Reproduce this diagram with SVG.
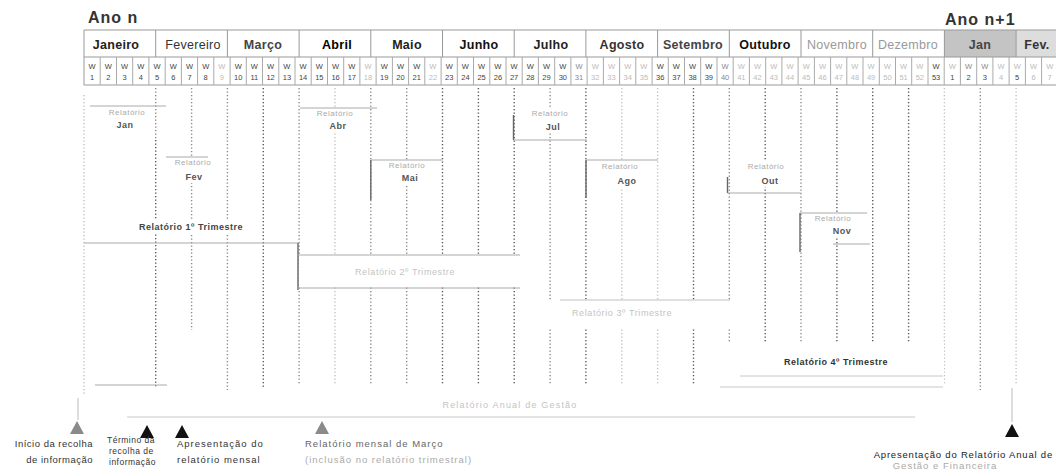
<svg xmlns="http://www.w3.org/2000/svg" width="1056" height="476" viewBox="0 0 1056 476">
<style>
text{font-family:"Liberation Sans",Arial,sans-serif}
.yr{font-size:16px;font-weight:bold;fill:#333;letter-spacing:1px}
.mo{font-size:12.5px;font-weight:bold;text-anchor:middle;fill:#222;letter-spacing:0.3px}
.mol{font-size:12.5px;text-anchor:middle;fill:#999;letter-spacing:0.3px}
.wk{font-size:7.5px;text-anchor:middle}
.d{fill:#444}.m{fill:#888}.l{fill:#bbb}
.rl{font-size:8px;fill:#aaa;text-anchor:middle;letter-spacing:0.5px}
.ab{font-size:9px;font-weight:bold;fill:#555;text-anchor:middle;letter-spacing:0.5px}
.q{font-size:9px;font-weight:bold;text-anchor:middle;fill:#444;letter-spacing:0.5px}
.qf{font-size:9px;text-anchor:middle;fill:#c4c4c4;letter-spacing:0.6px}
.grid{stroke:#999;stroke-width:1;fill:none}
.ln{stroke:#aaa;stroke-width:1;fill:none}
.lnd{stroke:#666;stroke-width:1.4;fill:none}
.dot{stroke-dasharray:1.2 2.3;stroke-width:1.4;fill:none}
.dk{stroke:#555}.md{stroke:#888}.lt{stroke:#c0c0c0}
.nt{font-size:9.5px;fill:#333;letter-spacing:1px}
.ntf{font-size:9.5px;fill:#aaa;letter-spacing:1px}
.wh{fill:#fff}
</style>

<g id="header">
<text class="yr" x="88" y="23">Ano n</text>
<text class="yr" x="945" y="25">Ano n+1</text>
<rect x="944.4" y="30" width="71.7" height="27" fill="#c4c4c4"/>
<rect x="1016.1" y="30" width="40" height="27" fill="#ddd"/>
<path class="grid" d="M84 30H1056M84 57H1056M84 85H1056M84 30V85M155.7 30V57M227.4 30V57M299.1 30V57M370.8 30V57M442.5 30V57M514.2 30V57M585.9 30V57M657.6 30V57M729.3 30V57M801 30V57M872.7 30V57M944.4 30V57M1016.1 30V57"/>
<path class="grid" style="stroke:#aaa" d="M100.2 57V85M116.5 57V85M132.7 57V85M148.9 57V85M165.2 57V85M181.4 57V85M197.6 57V85M213.8 57V85M230.1 57V85M246.3 57V85M262.5 57V85M278.8 57V85M295 57V85M311.2 57V85M327.5 57V85M343.7 57V85M359.9 57V85M376.1 57V85M392.4 57V85M408.6 57V85M424.8 57V85M441.1 57V85M457.3 57V85M473.5 57V85M489.8 57V85M506 57V85M522.2 57V85M538.4 57V85M554.7 57V85M570.9 57V85M587.1 57V85M603.4 57V85M619.6 57V85M635.8 57V85M652.1 57V85M668.3 57V85M684.5 57V85M700.7 57V85M717 57V85M733.2 57V85M749.4 57V85M765.7 57V85M781.9 57V85M798.1 57V85M814.4 57V85M830.6 57V85M846.8 57V85M863 57V85M879.3 57V85M895.5 57V85M911.7 57V85M928 57V85M944.2 57V85M960.4 57V85M976.7 57V85M992.9 57V85M1009.1 57V85M1025.4 57V85M1041.6 57V85"/>
<text class="mo" x="116" y="49">Janeiro</text>
<text class="mo" x="193" y="49" style="font-weight:normal;fill:#333">Fevereiro</text>
<text class="mo" x="263" y="49" style="fill:#444">Março</text>
<text class="mo" x="337" y="49" style="fill:#000">Abril</text>
<text class="mo" x="407" y="49">Maio</text>
<text class="mo" x="479" y="49" style="fill:#111">Junho</text>
<text class="mo" x="551" y="49">Julho</text>
<text class="mo" x="622" y="49" style="fill:#333">Agosto</text>
<text class="mo" x="693" y="49" style="fill:#444">Setembro</text>
<text class="mo" x="765" y="49" style="fill:#111">Outubro</text>
<text class="mol" x="837" y="49">Novembro</text>
<text class="mol" x="908" y="49">Dezembro</text>
<text class="mo" x="980" y="49" style="fill:#444">Jan</text>
<text class="mo" x="1037" y="49" style="fill:#333">Fev.</text>
</g>

<g id="weeks" class="wk">
<text class="d" x="92.1" y="69">W</text><text class="d" x="92.1" y="80">1</text>
<text class="d" x="108.3" y="69">W</text><text class="d" x="108.3" y="80">2</text>
<text class="d" x="124.6" y="69">W</text><text class="d" x="124.6" y="80">3</text>
<text class="d" x="140.8" y="69">W</text><text class="d" x="140.8" y="80">4</text>
<text class="d" x="157" y="69">W</text><text class="d" x="157" y="80">5</text>
<text class="d" x="173.3" y="69">W</text><text class="d" x="173.3" y="80">6</text>
<text class="d" x="189.5" y="69">W</text><text class="d" x="189.5" y="80">7</text>
<text class="d" x="205.7" y="69">W</text><text class="d" x="205.7" y="80">8</text>
<text class="l" x="221.9" y="69">W</text><text class="l" x="221.9" y="80">9</text>
<text class="d" x="238.2" y="69">W</text><text class="d" x="238.2" y="80">10</text>
<text class="d" x="254.4" y="69">W</text><text class="d" x="254.4" y="80">11</text>
<text class="d" x="270.6" y="69">W</text><text class="d" x="270.6" y="80">12</text>
<text class="d" x="286.9" y="69">W</text><text class="d" x="286.9" y="80">13</text>
<text class="d" x="303.1" y="69">W</text><text class="d" x="303.1" y="80">14</text>
<text class="d" x="319.3" y="69">W</text><text class="d" x="319.3" y="80">15</text>
<text class="d" x="335.6" y="69">W</text><text class="d" x="335.6" y="80">16</text>
<text class="d" x="351.8" y="69">W</text><text class="d" x="351.8" y="80">17</text>
<text class="l" x="368" y="69">W</text><text class="l" x="368" y="80">18</text>
<text class="d" x="384.2" y="69">W</text><text class="d" x="384.2" y="80">19</text>
<text class="d" x="400.5" y="69">W</text><text class="d" x="400.5" y="80">20</text>
<text class="d" x="416.7" y="69">W</text><text class="d" x="416.7" y="80">21</text>
<text class="l" x="432.9" y="69">W</text><text class="l" x="432.9" y="80">22</text>
<text class="d" x="449.2" y="69">W</text><text class="d" x="449.2" y="80">23</text>
<text class="d" x="465.4" y="69">W</text><text class="d" x="465.4" y="80">24</text>
<text class="d" x="481.6" y="69">W</text><text class="d" x="481.6" y="80">25</text>
<text class="d" x="497.9" y="69">W</text><text class="d" x="497.9" y="80">26</text>
<text class="d" x="514.1" y="69">W</text><text class="d" x="514.1" y="80">27</text>
<text class="d" x="530.3" y="69">W</text><text class="d" x="530.3" y="80">28</text>
<text class="d" x="546.5" y="69">W</text><text class="d" x="546.5" y="80">29</text>
<text class="d" x="562.8" y="69">W</text><text class="d" x="562.8" y="80">30</text>
<text class="m" x="579" y="69">W</text><text class="m" x="579" y="80">31</text>
<text class="l" x="595.2" y="69">W</text><text class="l" x="595.2" y="80">32</text>
<text class="l" x="611.5" y="69">W</text><text class="l" x="611.5" y="80">33</text>
<text class="l" x="627.7" y="69">W</text><text class="l" x="627.7" y="80">34</text>
<text class="l" x="643.9" y="69">W</text><text class="l" x="643.9" y="80">35</text>
<text class="d" x="660.2" y="69">W</text><text class="d" x="660.2" y="80">36</text>
<text class="d" x="676.4" y="69">W</text><text class="d" x="676.4" y="80">37</text>
<text class="d" x="692.6" y="69">W</text><text class="d" x="692.6" y="80">38</text>
<text class="d" x="708.8" y="69">W</text><text class="d" x="708.8" y="80">39</text>
<text class="m" x="725.1" y="69">W</text><text class="m" x="725.1" y="80">40</text>
<text class="l" x="741.3" y="69">W</text><text class="l" x="741.3" y="80">41</text>
<text class="l" x="757.5" y="69">W</text><text class="l" x="757.5" y="80">42</text>
<text class="l" x="773.8" y="69">W</text><text class="l" x="773.8" y="80">43</text>
<text class="l" x="790" y="69">W</text><text class="l" x="790" y="80">44</text>
<text class="l" x="806.2" y="69">W</text><text class="l" x="806.2" y="80">45</text>
<text class="l" x="822.5" y="69">W</text><text class="l" x="822.5" y="80">46</text>
<text class="l" x="838.7" y="69">W</text><text class="l" x="838.7" y="80">47</text>
<text class="l" x="854.9" y="69">W</text><text class="l" x="854.9" y="80">48</text>
<text class="l" x="871.1" y="69">W</text><text class="l" x="871.1" y="80">49</text>
<text class="l" x="887.4" y="69">W</text><text class="l" x="887.4" y="80">50</text>
<text class="l" x="903.6" y="69">W</text><text class="l" x="903.6" y="80">51</text>
<text class="l" x="919.8" y="69">W</text><text class="l" x="919.8" y="80">52</text>
<text class="d" x="936.1" y="69">W</text><text class="d" x="936.1" y="80">53</text>
<text class="l" x="952.3" y="69">W</text><text class="d" x="952.3" y="80">1</text>
<text class="m" x="968.5" y="69">W</text><text class="d" x="968.5" y="80">2</text>
<text class="m" x="984.8" y="69">W</text><text class="d" x="984.8" y="80">3</text>
<text class="l" x="1001" y="69">W</text><text class="l" x="1001" y="80">4</text>
<text class="l" x="1017.2" y="69">W</text><text class="d" x="1017.2" y="80">5</text>
<text class="l" x="1033.5" y="69">W</text><text class="l" x="1033.5" y="80">6</text>
<text class="l" x="1049.7" y="69">W</text><text class="l" x="1049.7" y="80">7</text>
</g>

<g id="gridlines" class="dot">
<path class="lt" d="M84 95V395"/>
<path class="md" d="M155.7 88V140"/>
<path class="dk" d="M155.7 140V388"/>
<path class="md" d="M191.6 88V330"/>
<path class="md" d="M227.4 88V390"/>
<path class="dk" d="M263.3 88V388"/>
<path class="md" d="M299.1 88V385"/>
<path class="lt" d="M335 88V385"/>
<path class="md" d="M370.8 88V385"/>
<path class="md" d="M406.7 88V385"/>
<path class="dk" d="M442.5 88V385"/>
<path class="dk" d="M478.4 88V385"/>
<path class="dk" d="M514.2 88V385"/>
<path class="md" d="M550.1 88V385"/>
<path class="dk" d="M585.9 88V385"/>
<path class="lt" d="M621.8 88V385"/>
<path class="lt" d="M657.6 88V385"/>
<path class="dk" d="M693.5 88V385"/>
<path class="md" d="M729.3 88V385"/>
<path class="dk" d="M765.2 88V385"/>
<path class="md" d="M801 88V385"/>
<path class="dk" d="M836.9 88V385"/>
<path class="dk" d="M872.7 88V385"/>
<path class="dk" d="M908.6 88V385"/>
<path class="lt" d="M944.4 88V385"/>
<path class="md" d="M980.3 88V390"/>
<path class="lt" d="M1016.1 88V385"/>
</g>

<g id="connectors">
<path class="ln" d="M90 106H166"/>
<path class="ln" d="M166 157H208"/>
<path class="ln" d="M300 108H377"/>
<path class="ln" d="M370.8 160H442.5"/>
<path class="lnd" d="M370.8 160V200"/>
<path class="lnd" d="M513.5 115V140"/>
<path class="ln" d="M513.5 140H587"/>
<path class="ln" d="M586 160H658"/>
<path class="lnd" d="M586 160V198"/>
<path class="lnd" d="M727.5 177V193"/>
<path class="ln" d="M727.5 193H801"/>
<path class="ln" d="M800 213H867"/>
<path class="lnd" d="M800 213V252"/>
<path class="ln" d="M833 244H870"/>
<path class="ln" d="M84 243H299"/>
<path class="lnd" d="M298 243V290"/>
<path class="ln" d="M95 385H167"/>
<path class="ln" style="stroke:#c8c8c8" d="M127 417H915"/>
<path class="ln" style="stroke:#bbb" d="M78 398V420M1012 388V422"/>
</g>

<g id="rel-jan"><rect class="wh" x="104" y="108" width="46" height="24"/><text class="rl" x="127" y="115">Relatório</text><text class="ab" x="125" y="128">Jan</text></g>
<g id="rel-fev"><rect class="wh" x="172" y="158" width="44" height="25"/><text class="rl" x="193" y="165">Relatório</text><text class="ab" x="194" y="180">Fev</text></g>
<g id="rel-abr"><rect class="wh" x="315" y="109" width="42" height="23"/><text class="rl" x="335" y="116">Relatório</text><text class="ab" x="338" y="129">Abr</text></g>
<g id="rel-mai"><rect class="wh" x="388" y="161" width="42" height="23"/><text class="rl" x="407" y="168">Relatório</text><text class="ab" x="410" y="181">Mai</text></g>
<g id="rel-jul"><rect class="wh" x="530" y="108" width="42" height="25"/><text class="rl" x="550" y="116">Relatório</text><text class="ab" x="553" y="130">Jul</text></g>
<g id="rel-ago"><rect class="wh" x="601" y="161" width="42" height="26"/><text class="rl" x="620" y="169">Relatório</text><text class="ab" x="627" y="184">Ago</text></g>
<g id="rel-out"><rect class="wh" x="746" y="161" width="42" height="26"/><text class="rl" x="766" y="169">Relatório</text><text class="ab" x="770" y="184">Out</text></g>
<g id="rel-nov"><rect class="wh" x="813" y="214" width="42" height="24"/><text class="rl" x="833" y="221">Relatório</text><text class="ab" x="842" y="234">Nov</text></g>

<g id="rel-t1"><rect class="wh" x="132" y="219" width="118" height="15"/><text class="q" x="191" y="230">Relatório 1º Trimestre</text></g>
<g id="rel-t2"><rect class="wh" x="299" y="256" width="220" height="31"/><path class="ln" d="M298 255H520M298 288H520"/><text class="qf" x="405" y="275">Relatório 2º Trimestre</text></g>
<g id="rel-t3"><rect class="wh" x="532" y="301" width="203" height="28"/><path class="ln" style="stroke:#c0c0c0" d="M560 300H730"/><text class="qf" x="622" y="316">Relatório 3º Trimestre</text></g>
<g id="rel-t4"><rect class="wh" x="724" y="342" width="220" height="46"/><text class="q" x="836" y="365" style="fill:#333">Relatório 4º Trimestre</text><path class="ln" style="stroke:#c8c8c8" d="M740 376H943M720 387H943"/></g>
<g id="rel-anual"><text class="qf" x="510" y="408" style="letter-spacing:1.2px">Relatório Anual de Gestão</text></g>

<g id="m-inicio"><polygon points="77,421 70,434 84,434" fill="#8a8a8a"/><text class="nt" x="93" y="447" text-anchor="end" style="letter-spacing:0.5px">Início da recolha</text><text class="nt" x="93" y="463" text-anchor="end" style="letter-spacing:0.5px">de informação</text></g>
<g id="m-termino"><polygon points="147,425 140,438 154,438" fill="#111"/><text class="nt" x="107" y="443" style="font-size:8.5px;letter-spacing:0.5px">Término da</text><text class="nt" x="109" y="454" style="font-size:8.5px;letter-spacing:0.5px">recolha de</text><text class="nt" x="109" y="465" style="font-size:8.5px;letter-spacing:0.5px">informação</text></g>
<g id="m-apresent"><polygon points="182,425 175,438 189,438" fill="#111"/><text class="nt" x="177" y="447">Apresentação do</text><text class="nt" x="177" y="463">relatório mensal</text></g>
<g id="m-marco"><polygon points="322,421 315,434 329,434" fill="#8a8a8a"/><text class="nt" x="305" y="447" style="fill:#666">Relatório mensal de Março</text><text class="ntf" x="305" y="463">(inclusão no relatório trimestral)</text></g>
<g id="m-anual"><polygon points="1012,424 1005,437 1019,437" fill="#111"/><text class="nt" x="1053" y="458" text-anchor="end" style="fill:#222;letter-spacing:0.8px">Apresentação do Relatório Anual de</text><text class="ntf" x="945" y="469" text-anchor="middle">Gestão e Financeira</text></g>
</svg>
